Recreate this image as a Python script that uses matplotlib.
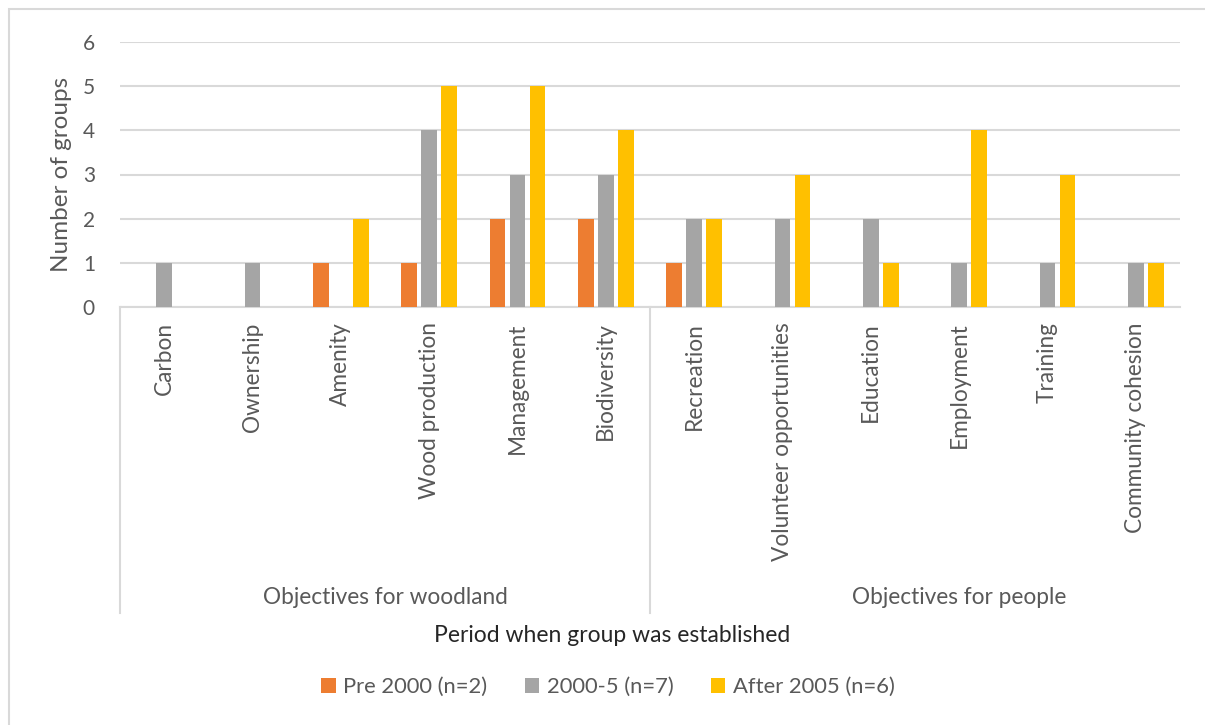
import matplotlib
matplotlib.use("Agg")
import matplotlib.pyplot as plt
import numpy as np
from matplotlib.patches import Rectangle

plt.rcParams['font.family'] = ['Lato', 'DejaVu Sans']

# objectives and counts per establishment period
categories = ["Carbon", "Ownership", "Amenity", "Wood production", "Management",
              "Biodiversity", "Recreation", "Volunteer opportunities", "Education",
              "Employment", "Training", "Community cohesion"]
groups = ["Objectives for woodland", "Objectives for people"]
group_sizes = [6, 6]
series_names = ["Pre 2000 (n=2)", "2000-5 (n=7)", "After 2005 (n=6)"]
pre_2000 = [0, 0, 1, 1, 2, 2, 1, 0, 0, 0, 0, 0]
y2000_5 = [1, 1, 0, 4, 3, 3, 2, 2, 2, 1, 1, 1]
after_2005 = [0, 0, 2, 5, 5, 4, 2, 3, 1, 4, 3, 1]
colors = ["#ED7D31", "#A5A5A5", "#FFC000"]

text_col = "#595959"
line_col = "#D9D9D9"

W, H = 1205, 725
fig = plt.figure(figsize=(W / 100, H / 100), dpi=100)
ax = fig.add_axes([120 / W, 1 - 307 / H, 1060 / W, 265 / H])

# outer chart border
fig.add_artist(Rectangle((9 / W, -0.1), 1.2, 1 - 9 / H + 0.1, transform=fig.transFigure,
                         fill=False, edgecolor=line_col, linewidth=1.5))

x = np.arange(len(categories))
step = 0.226
bw = 0.178
for i, (vals, name) in enumerate(zip([pre_2000, y2000_5, after_2005], series_names)):
    ax.bar(x + (i - 1) * step, vals, width=bw, color=colors[i], label=name, zorder=3)

ax.set_xlim(-0.5, len(categories) - 0.5)
ax.set_ylim(0, 6)
ax.set_yticks(range(7))
ax.yaxis.grid(True, color=line_col, linewidth=1.5, zorder=0)
ax.tick_params(axis='y', length=0, pad=18, labelsize=15, labelcolor=text_col)
ax.set_xticks(x)
ax.set_xticklabels(categories, rotation=90, va='top', ha='center', fontsize=16.3, color=text_col)
ax.tick_params(axis='x', length=0, pad=11)
for side in ["top", "right", "left"]:
    ax.spines[side].set_visible(False)
ax.spines["bottom"].set_color(line_col)
ax.spines["bottom"].set_linewidth(1.5)
ax.set_ylabel("Number of groups", fontsize=17.5, color=text_col, labelpad=8)

# two-level category axis: dividers and group names
low = -(613 - 307) / 265
tr = ax.get_xaxis_transform()
edges = np.concatenate([[0], np.cumsum(group_sizes)]) - 0.5
for e in edges[:-1]:
    ax.plot([e, e], [0, low], transform=tr, color=line_col, linewidth=1.5, clip_on=False)
group_y = -(597 - 307) / 265
ax.text((edges[0] + edges[1]) / 2, group_y, groups[0], transform=tr, ha='center',
        va='center', fontsize=16.3, color=text_col)
ax.text(9.0, group_y, groups[1], transform=tr, ha='center', va='center',
        fontsize=16.3, color=text_col)

fig.text(612 / W, 1 - 636 / H, "Period when group was established", ha='center',
         va='center', fontsize=16.5, color="#262626")

fig.legend(loc='center', bbox_to_anchor=(608 / W, 1 - 687 / H), ncol=3, frameon=False,
           fontsize=15.8, handlelength=0.65, handleheight=0.65, handletextpad=0.35,
           columnspacing=1.7, labelcolor=text_col)

fig.savefig("out.png", dpi=100)
